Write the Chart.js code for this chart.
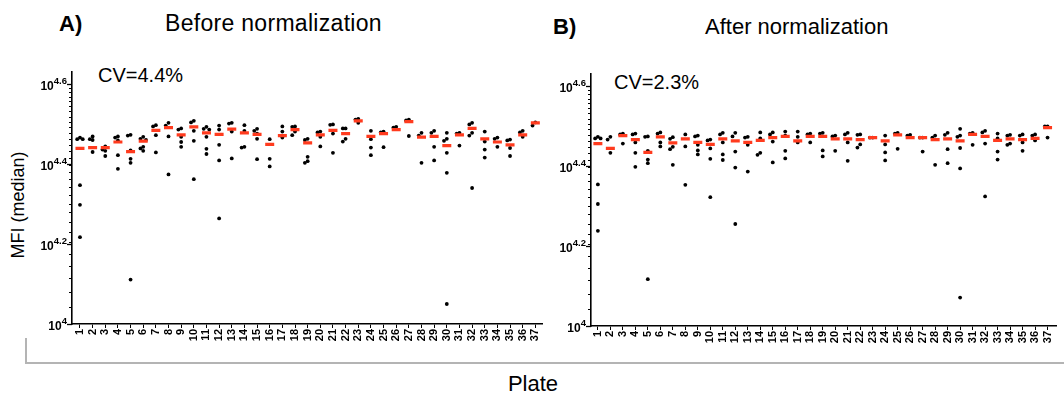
<!DOCTYPE html>
<html>
<head>
<meta charset="utf-8">
<script src="https://cdn.jsdelivr.net/npm/chart.js@4.4.1/dist/chart.umd.min.js"></script>
<style>
  html, body { margin: 0; padding: 0; background: #fff; }
  #page { position: relative; width: 1064px; height: 399px; overflow: hidden;
          font-family: 'Liberation Sans', Arial, Helvetica, sans-serif; color: #000; }
  .txt { position: absolute; line-height: 1; white-space: nowrap; }
  canvas { position: absolute; top: 0; }
  #bracket { position: absolute; left: 25px; top: 338px; width: 1045px; height: 24px;
             border-left: 2px solid #b4b4b4; border-bottom: 2px solid #b4b4b4; }
</style>
</head>
<body>
<div id="page">
  <div class="txt" style="left:59px;top:13px;font-size:22px;font-weight:bold">A)</div>
  <div class="txt" style="left:165px;top:12px;font-size:23px;letter-spacing:0.3px">Before normalization</div>
  <div class="txt" style="left:553px;top:16px;font-size:22px;font-weight:bold">B)</div>
  <div class="txt" style="left:705px;top:16px;font-size:22px">After normalization</div>
  <div class="txt" style="left:98px;top:65px;font-size:20px">CV=4.4%</div>
  <div class="txt" style="left:614px;top:72px;font-size:20px">CV=2.3%</div>
  <div class="txt" style="left:18px;top:205px;font-size:18px;transform:translate(-50%,-50%) rotate(-90deg)">MFI (median)</div>
  <div id="bracket"></div>
  <div class="txt" style="left:533px;top:373px;font-size:22px;transform:translateX(-50%)">Plate</div>
  <canvas id="before" width="550" height="399" style="left:0"></canvas>
  <canvas id="after" width="514" height="399" style="left:550px"></canvas>
</div>
<script>
// log10(MFI) per plate; each inner list holds the individual samples of one plate
const plates = Array.from({ length: 37 }, (_, i) => i + 1);

const beforeDots = [
  [4.466, 4.462, 4.462, 4.347, 4.298, 4.217],
  [4.469, 4.462, 4.460, 4.430],
  [4.444, 4.436, 4.433, 4.420],
  [4.469, 4.466, 4.459, 4.422, 4.388],
  [4.473, 4.471, 4.434, 4.413, 4.403, 4.111],
  [4.468, 4.463, 4.460, 4.443, 4.439, 4.433],
  [4.497, 4.494, 4.472, 4.429],
  [4.503, 4.496, 4.469, 4.374],
  [4.489, 4.486, 4.468, 4.455, 4.443],
  [4.508, 4.504, 4.483, 4.458, 4.362],
  [4.493, 4.488, 4.486, 4.468, 4.438, 4.425],
  [4.496, 4.486, 4.448, 4.409, 4.264],
  [4.503, 4.501, 4.481, 4.414],
  [4.497, 4.483, 4.443, 4.441],
  [4.488, 4.483, 4.476, 4.463, 4.412],
  [4.462, 4.413, 4.394],
  [4.494, 4.481, 4.466],
  [4.494, 4.493, 4.481, 4.472],
  [4.463, 4.460, 4.418, 4.407, 4.403],
  [4.481, 4.479, 4.468, 4.444],
  [4.499, 4.498, 4.476, 4.428],
  [4.489, 4.489, 4.463, 4.456],
  [4.513, 4.511, 4.503],
  [4.483, 4.462, 4.441, 4.422],
  [4.481, 4.479, 4.442],
  [4.493, 4.491],
  [4.511, 4.509, 4.470],
  [4.478, 4.471, 4.403],
  [4.483, 4.478, 4.443, 4.409],
  [4.478, 4.463, 4.458, 4.428, 4.378, 4.050],
  [4.478, 4.476, 4.446],
  [4.503, 4.499, 4.478, 4.471, 4.340],
  [4.481, 4.456, 4.436, 4.416],
  [4.466, 4.463, 4.443],
  [4.461, 4.459, 4.440, 4.420],
  [4.483, 4.479, 4.468],
  [4.504, 4.496]
];
const beforeMedians = [
  4.439, 4.441, 4.441, 4.455, 4.431, 4.457, 4.484, 4.491, 4.473, 4.493,
  4.478, 4.474, 4.487, 4.478, 4.474, 4.449, 4.471, 4.486, 4.453, 4.473,
  4.484, 4.476, 4.508, 4.469, 4.476, 4.486, 4.506, 4.467, 4.469, 4.446,
  4.473, 4.489, 4.463, 4.455, 4.448, 4.473, 4.503
];

const afterDots = [
  [4.473, 4.469, 4.469, 4.354, 4.305, 4.238],
  [4.473, 4.466, 4.433],
  [4.481, 4.479, 4.456],
  [4.481, 4.479, 4.459, 4.433, 4.398],
  [4.474, 4.473, 4.438, 4.416, 4.407, 4.117],
  [4.484, 4.481, 4.459, 4.449],
  [4.472, 4.468, 4.448, 4.442, 4.403],
  [4.479, 4.449, 4.353],
  [4.476, 4.474, 4.453, 4.439, 4.429],
  [4.466, 4.464, 4.444, 4.418, 4.322],
  [4.483, 4.479, 4.459, 4.429, 4.415],
  [4.483, 4.474, 4.436, 4.396, 4.255],
  [4.473, 4.471, 4.453, 4.386],
  [4.484, 4.469, 4.433, 4.428],
  [4.484, 4.479, 4.461, 4.409],
  [4.486, 4.476, 4.438, 4.419],
  [4.486, 4.473, 4.459],
  [4.481, 4.479, 4.459],
  [4.483, 4.481, 4.439, 4.424],
  [4.476, 4.474, 4.438],
  [4.483, 4.479, 4.459, 4.413],
  [4.479, 4.478, 4.454, 4.446],
  [4.471, 4.471],
  [4.476, 4.454, 4.434, 4.414],
  [4.483, 4.481, 4.443],
  [4.478, 4.476],
  [4.471, 4.471, 4.436],
  [4.476, 4.471, 4.403],
  [4.483, 4.478, 4.442, 4.407],
  [4.493, 4.476, 4.473, 4.445, 4.394, 4.071],
  [4.483, 4.481, 4.453],
  [4.488, 4.484, 4.456, 4.324],
  [4.481, 4.469, 4.436, 4.416],
  [4.478, 4.476, 4.456, 4.453],
  [4.479, 4.476, 4.459, 4.438],
  [4.479, 4.476, 4.464],
  [4.499, 4.499, 4.471]
];
const afterMedians = [
  4.456, 4.444, 4.476, 4.466, 4.434, 4.473, 4.458, 4.468, 4.459, 4.454,
  4.468, 4.463, 4.459, 4.464, 4.471, 4.474, 4.463, 4.474, 4.474, 4.468,
  4.468, 4.466, 4.471, 4.463, 4.478, 4.471, 4.471, 4.466, 4.468, 4.463,
  4.479, 4.474, 4.464, 4.468, 4.466, 4.469, 4.496
];

// y axis: majors every 0.2 decade, minors every 1000 MFI
const majorExponents = [4, 4.2, 4.4, 4.6];
const minorStep = 1000;
const yMinExp = 4, yMaxExp = 4.63;

// spread samples of one plate sideways when they would sit on top of each other
function swarm(values, plate) {
  const slots = [0, -0.22, 0.22, -0.44, 0.44];
  const placed = [];
  return values.map(v => {
    let dx = slots.find(s => placed.every(p => Math.abs(p.dx - s) > 0.15 || Math.abs(p.v - v) > 0.009));
    if (dx === undefined) dx = 0;
    placed.push({ v, dx });
    return { x: plate + dx, y: Math.pow(10, v) };
  });
}

const logAxisTicks = {
  id: 'logAxisTicks',
  afterDraw(chart) {
    const { ctx, chartArea } = chart;
    const y = chart.scales.y;
    const x0 = chartArea.left;
    ctx.save();
    ctx.strokeStyle = '#000';
    ctx.lineWidth = 1;
    for (let v = 11000; v < Math.pow(10, 4.6); v += minorStep) {
      const py = Math.round(y.getPixelForValue(v)) + 0.5;
      ctx.beginPath(); ctx.moveTo(x0 - 3, py); ctx.lineTo(x0, py); ctx.stroke();
    }
    ctx.fillStyle = '#000';
    ctx.textBaseline = 'alphabetic';
    const baseFont = 'bold 12px "Liberation Sans", Arial, sans-serif';
    const supFont = 'bold 9.5px "Liberation Sans", Arial, sans-serif';
    majorExponents.forEach(e => {
      const py = Math.round(y.getPixelForValue(Math.pow(10, e))) + 0.5;
      ctx.lineWidth = 1.3;
      ctx.beginPath(); ctx.moveTo(x0 - 5, py); ctx.lineTo(x0, py); ctx.stroke();
      const sup = String(e);
      ctx.font = supFont;
      const wSup = ctx.measureText(sup).width;
      ctx.font = baseFont;
      const wBase = ctx.measureText('10').width;
      const right = x0 - 5;
      ctx.fillText('10', right - wSup - wBase, py + 5);
      ctx.font = supFont;
      ctx.fillText(sup, right - wSup, py - 0.5);
    });
    ctx.restore();
  }
};

function makePanel(canvasId, dots, medians, box) {
  const dotPoints = [];
  dots.forEach((vals, i) => dotPoints.push(...swarm(vals, plates[i])));
  const medianPoints = medians.map((v, i) => ({ x: plates[i], y: Math.pow(10, v) }));

  return new Chart(document.getElementById(canvasId), {
    type: 'scatter',
    data: {
      datasets: [
        {
          data: medianPoints, order: 0,
          pointStyle: 'line', pointRadius: 4.5, borderWidth: 3.2,
          borderColor: '#ff3b1e', backgroundColor: '#ff3b1e'
        },
        {
          data: dotPoints, order: 1,
          pointRadius: 1.9, borderWidth: 0,
          backgroundColor: '#000', borderColor: '#000'
        }
      ]
    },
    options: {
      responsive: false,
      animation: false,
      events: [],
      layout: { padding: { left: 0, right: box.padRight, top: box.top, bottom: 0 } },
      plugins: { legend: { display: false }, tooltip: { enabled: false } },
      scales: {
        x: {
          type: 'linear', min: box.xMin, max: box.xMax,
          afterBuildTicks: s => { s.ticks = plates.map(v => ({ value: v })); },
          afterFit: s => { s.height = box.xHeight; },
          grid: { display: true, drawOnChartArea: false, tickLength: 4, color: '#000', lineWidth: 1 },
          border: { display: true, color: '#000', width: 1.6 },
          ticks: {
            autoSkip: false, maxRotation: 90, minRotation: 90, padding: 1,
            color: '#000', font: { family: 'Liberation Sans', size: 11, weight: 'bold' },
            callback: v => String(v)
          }
        },
        y: {
          type: 'logarithmic', min: Math.pow(10, yMinExp), max: Math.pow(10, yMaxExp),
          afterFit: s => { s.width = box.yWidth; },
          grid: { display: false },
          border: { display: true, color: '#000', width: 1.6 },
          ticks: { display: false }
        }
      }
    },
    plugins: [logAxisTicks]
  });
}

makePanel('before', beforeDots, beforeMedians,
  { top: 72, padRight: 4, yWidth: 72, xHeight: 75, xMin: 0.37, xMax: 37.55 });
makePanel('after', afterDots, afterMedians,
  { top: 74, padRight: 0, yWidth: 41, xHeight: 73, xMin: 0.45, xMax: 37.7 });
</script>
</body>
</html>
